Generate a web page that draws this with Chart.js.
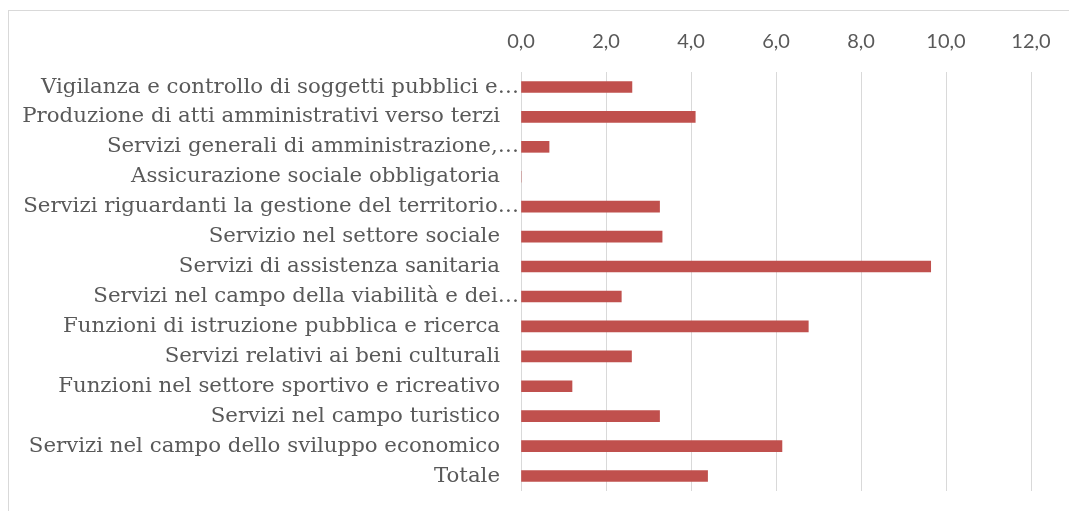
<!DOCTYPE html>
<html>
<head>
<meta charset="utf-8">
<script src="https://cdn.jsdelivr.net/npm/chart.js@4"></script>
<style>
  body { margin: 0; background: #fff; }
  #frame { position: absolute; left: 8px; top: 10px; width: 1200px; height: 600px;
           border-left: 1px solid #d9d9d9; border-top: 1px solid #d9d9d9; }
  #wrap { position: absolute; left: 0; top: 0; width: 1069px; height: 511px; }
</style>
</head>
<body>
<div id="frame"></div>
<div id="wrap"><canvas id="plot1"></canvas></div>
<script>
const categories = [
    "Vigilanza e controllo di soggetti pubblici e…",
    "Produzione di atti amministrativi verso terzi",
    "Servizi generali di amministrazione,…",
    "Assicurazione sociale obbligatoria",
    "Servizi riguardanti la gestione del territorio…",
    "Servizio nel settore sociale",
    "Servizi di assistenza sanitaria",
    "Servizi nel campo della viabilità e dei…",
    "Funzioni di istruzione pubblica e ricerca",
    "Servizi relativi ai beni culturali",
    "Funzioni nel settore sportivo e ricreativo",
    "Servizi nel campo turistico",
    "Servizi nel campo dello sviluppo economico",
    "Totale"
];
const values = [2.61, 4.10, 0.66, 0, 3.26, 3.32, 9.64, 2.36, 6.76, 2.60, 1.20, 3.26, 6.14, 4.39];
const tickMin = 0;
const tickMax = 12;
const tickStep = 2;

const textGray = "#595959";

// category labels drawn by hand so the cut ones can run up to the axis like in Excel
const categoryLabels = {
    id: "categoryLabels",
    afterDraw(chart) {
        const ctx = chart.ctx;
        const y = chart.scales.y;
        ctx.save();
        ctx.font = "21.3px 'DejaVu Serif'";
        ctx.fillStyle = textGray;
        ctx.textAlign = "right";
        ctx.textBaseline = "middle";
        categories.forEach((label, i) => {
            const x = label.endsWith("…") ? y.right - 2 : y.right - 21;
            ctx.fillText(label, x, y.getPixelForValue(i));
        });
        ctx.restore();
    }
};

new Chart(document.getElementById("plot1"), {
    type: "bar",
    data: {
        labels: categories,
        datasets: [
            {
                data: values,
                backgroundColor: "#c0504d",
                barThickness: 11
            }
        ]
    },
    options: {
        indexAxis: "y",
        responsive: true,
        maintainAspectRatio: false,
        animation: false,
        layout: {
            padding: { top: 12, right: 38, bottom: 20, left: 0 }
        },
        plugins: {
            legend: { display: false },
            tooltip: { enabled: false }
        },
        scales: {
            x: {
                position: "top",
                min: tickMin,
                max: tickMax,
                border: { display: false },
                grid: { color: "#d9d9d9", lineWidth: 1, drawTicks: false },
                ticks: {
                    stepSize: tickStep,
                    padding: 18,
                    color: textGray,
                    font: { family: "Lato", size: 20 },
                    callback: v => v.toFixed(1).replace(".", ",")
                }
            },
            y: {
                grid: { display: false },
                border: { display: false },
                ticks: { display: false },
                afterFit: s => { s.width = 521; }
            }
        }
    },
    plugins: [categoryLabels]
});
</script>
</body>
</html>
